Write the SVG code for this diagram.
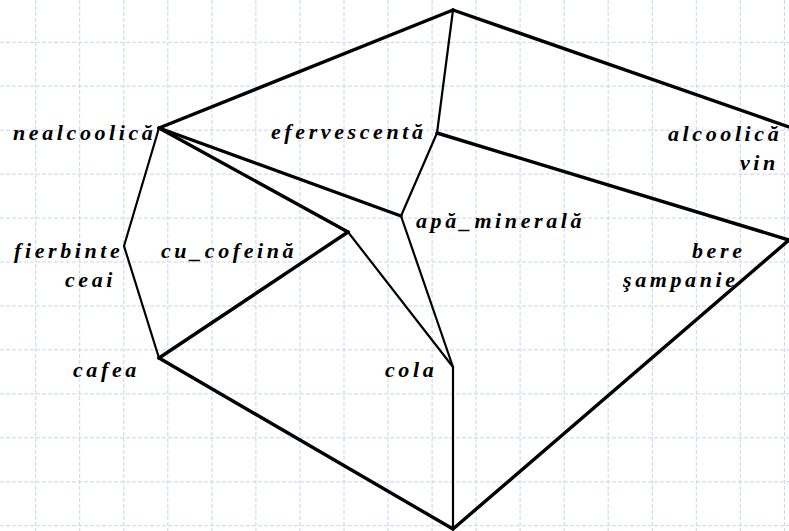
<svg xmlns="http://www.w3.org/2000/svg" width="789" height="531" viewBox="0 0 789 531">
<style>
.grid{fill:none;stroke:#c8d3f6;stroke-width:1;stroke-dasharray:4 2}
.e{stroke:#000;fill:none;stroke-linecap:round;stroke-linejoin:round}
.k{stroke-width:3.4}
.t{stroke-width:2.2}
.lbl{font-family:'Liberation Serif','Times New Roman',serif;font-size:22px;font-weight:700;font-style:italic;letter-spacing:3.6px;fill:#000}
</style>
<rect width="789" height="531" fill="#fff"/>
<g id="grid">
<path class="grid" d="M35.7 0V531M79.7 0V531M123.8 0V531M167.8 0V531M211.9 0V531M255.9 0V531M299.9 0V531M344 0V531M388 0V531M432.1 0V531M476.1 0V531M520.1 0V531M564.2 0V531M608.2 0V531M652.3 0V531M696.3 0V531M740.3 0V531M784.4 0V531"/>
<path class="grid" d="M0 42.3H789M0 86.2H789M0 130.2H789M0 174.1H789M0 218.1H789M0 262H789M0 306H789M0 349.9H789M0 393.9H789M0 437.8H789M0 481.8H789M0 525.7H789"/>
</g>
<g id="connectors">
<line class="e k" x1="453" y1="10" x2="159" y2="128"/>
<line class="e k" x1="453" y1="10" x2="789" y2="127"/>
<line class="e t" x1="453" y1="10" x2="437" y2="133"/>
<line class="e k" x1="159" y1="128" x2="401" y2="216"/>
<line class="e k" x1="159" y1="128" x2="348" y2="232"/>
<line class="e t" x1="159" y1="128" x2="124" y2="246"/>
<line class="e t" x1="437" y1="133" x2="401" y2="216"/>
<line class="e k" x1="437" y1="133" x2="789" y2="240"/>
<line class="e t" x1="401" y1="216" x2="453" y2="367"/>
<line class="e t" x1="348" y1="232" x2="453" y2="367"/>
<line class="e k" x1="348" y1="232" x2="159" y2="358"/>
<line class="e t" x1="124" y1="246" x2="159" y2="358"/>
<line class="e k" x1="159" y1="358" x2="453" y2="529"/>
<line class="e t" x1="453" y1="367" x2="453" y2="529"/>
<line class="e k" x1="789" y1="240" x2="453" y2="529"/>
</g>
<g id="top"></g>
<g id="nealcoolica"><text class="lbl" x="13" y="140">nealcoolică</text></g>
<g id="efervescenta"><text class="lbl" x="271" y="139">efervescentă</text></g>
<g id="alcoolica"><text class="lbl" x="668" y="141">alcoolică</text><text class="lbl" x="740" y="170">vin</text></g>
<g id="apa_minerala"><text class="lbl" x="416" y="228">apă_minerală</text></g>
<g id="cu_cofeina"><text class="lbl" x="161" y="258">cu_cofeină</text></g>
<g id="fierbinte"><text class="lbl" x="14" y="258">fierbinte</text><text class="lbl" x="65" y="287">ceai</text></g>
<g id="bere"><text class="lbl" x="692" y="258">bere</text><text class="lbl" x="623" y="287">şampanie</text></g>
<g id="cafea"><text class="lbl" x="73" y="377">cafea</text></g>
<g id="cola"><text class="lbl" x="385" y="377">cola</text></g>
<g id="bottom"></g>
</svg>
